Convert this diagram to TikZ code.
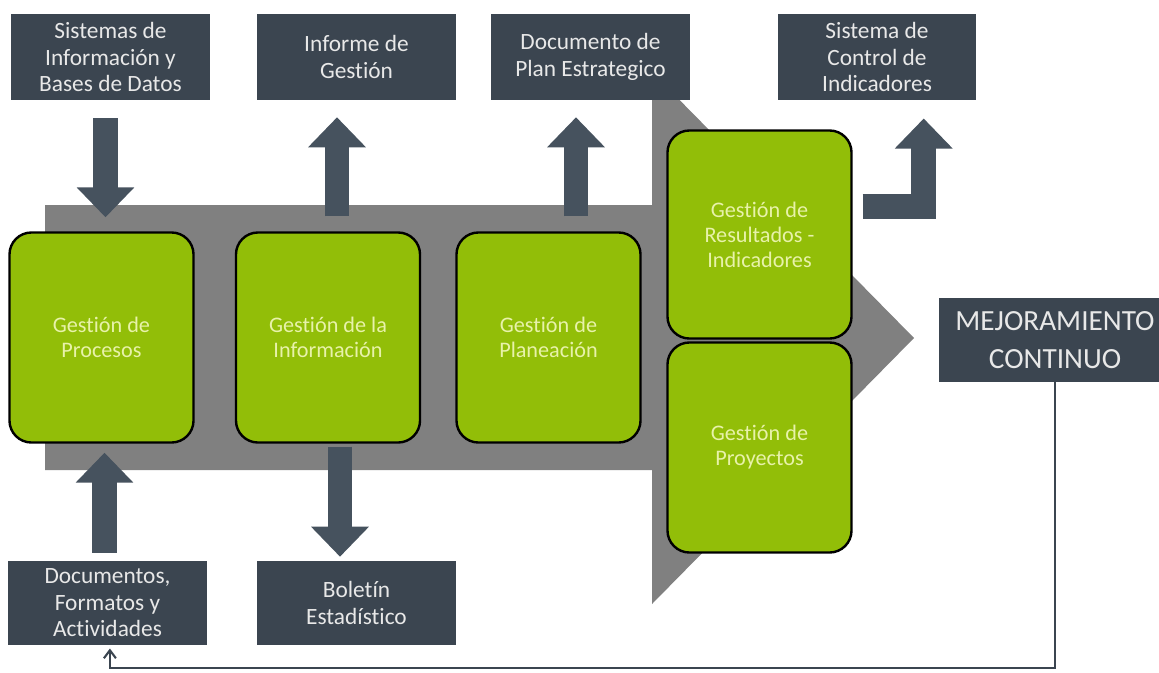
\documentclass[tikz,border=0pt]{standalone}
\usepackage{fontspec}
\setmainfont{Carlito}[Ligatures=NoCommon]
\usepackage{xcolor}
\usepackage{tikz}
\usetikzlibrary{arrows.meta}
\definecolor{slate}{RGB}{59,69,80}
\definecolor{slatearrow}{RGB}{70,82,94}
\definecolor{flowgray}{RGB}{128,128,128}
\definecolor{leaf}{RGB}{146,190,8}
\definecolor{leaftext}{RGB}{232,242,170}
\definecolor{boxtext}{RGB}{232,232,232}
\tikzset{
  darkbox/.style={fill=slate, text=boxtext, minimum width=4.95cm, minimum height=2.15cm,
    inner sep=0pt, align=center, font=\fontsize{16.6}{18.8}\selectfont},
  greenbox/.style={fill=leaf, draw=black, line width=1.7pt, rounded corners=0.55cm,
    text=leaftext, minimum width=4.6cm, minimum height=5.25cm, inner sep=0pt,
    align=center, font=\fontsize{15.8}{17.8}\selectfont},
  bigarrow/.style={draw=slatearrow, line width=0.62cm, line join=miter,
    -{Triangle[length=0.75cm,width=1.4cm,fill=slatearrow]}},
  thinarrow/.style={draw=slate, line width=1.5pt, -{Straight Barb[length=0.2cm,width=0.3cm]}}
}
\begin{document}
\begin{tikzpicture}[x=0.025cm, y=-0.025cm]
    \useasboundingbox (0,0) rectangle (1159,672);
    \clip (0,0) rectangle (1159,672);

    \fill[flowgray] (45,205) -- (652,205) -- (652,72) -- (914,338) -- (652,604) -- (652,470) -- (45,470) -- cycle;

    \node[darkbox] (sid) at (110.5,57) {Sistemas de\\Información y\\Bases de Datos};
    \node[darkbox] (inf) at (356.5,57) {Informe de\\Gestión};
    \node[darkbox] (doc) at (590.5,57) {Documento de\\Plan Estrategico};
    \node[darkbox] (sci) at (877,57) {Sistema de\\Control de\\Indicadores};
    \node[darkbox, minimum height=2.1cm] (dfa) at (107.5,603) {Documentos,\\Formatos y\\Actividades};
    \node[darkbox, minimum height=2.1cm] (bol) at (356.5,603) {Boletín\\Estadístico};
    \node[darkbox, minimum width=5.8cm, minimum height=2.1cm, font=\fontsize{20.8}{27}\selectfont] (mej) at (1055,340) {MEJORAMIENTO\\CONTINUO};

    \node[greenbox] (pro) at (101.5,337.5) {Gestión de\\Procesos};
    \node[greenbox] (gin) at (328,337.5) {Gestión de la\\Información};
    \node[greenbox] (gpl) at (548.5,337.5) {Gestión de\\Planeación};
    \node[greenbox, minimum height=5.2cm] (gre) at (759.5,234.5) {Gestión de\\Resultados -\\Indicadores};
    \node[greenbox] (gpy) at (759.5,447.5) {Gestión de\\Proyectos};

    \draw[bigarrow] (sid.south) ++(-5,18) -- ++(0,99);
    \draw[bigarrow] (gin.north) ++(9,-15) -- ++(0,-99);
    \draw[bigarrow] (gpl.north) ++(27.5,-15) -- ++(0,-99);
    \draw[bigarrow] (gre.east) ++(10,-28) -| ++(61,-88);
    \draw[bigarrow] (dfa.north) ++(-3,-8) -- ++(0,-100);
    \draw[bigarrow] (gin.south) ++(12,3) -- ++(0,110);

    \draw[thinarrow] (mej.south) -- ++(0,286) -| ([xshift=0.06cm, yshift=-0.08cm]dfa.south);
\end{tikzpicture}
\end{document}
